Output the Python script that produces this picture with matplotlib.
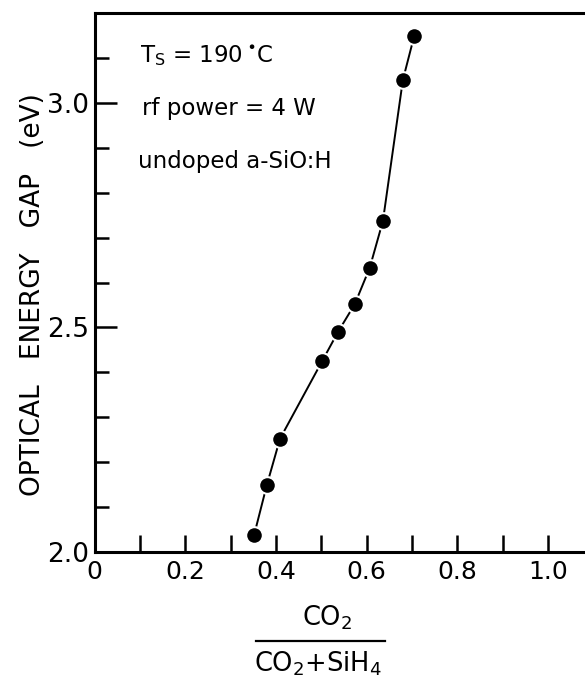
import matplotlib
matplotlib.use("Agg")
import matplotlib.pyplot as plt
from matplotlib.lines import Line2D

co2_ratio = [0.352, 0.380, 0.409, 0.502, 0.537, 0.574, 0.607, 0.636, 0.680, 0.705]
energy_gap = [2.038, 2.149, 2.252, 2.425, 2.490, 2.552, 2.633, 2.737, 3.051, 3.149]

x_ticks = [0.0, 0.1, 0.2, 0.3, 0.4, 0.5, 0.6, 0.7, 0.8, 0.9, 1.0]
x_tick_labels = ["0", "", "0.2", "", "0.4", "", "0.6", "", "0.8", "", "1.0"]
y_major = [2.0, 2.5, 3.0]
y_major_labels = ["2.0", "2.5", "3.0"]
y_minor = [2.1, 2.2, 2.3, 2.4, 2.6, 2.7, 2.8, 2.9, 3.1]

plt.rcParams['font.family'] = ['DejaVu Sans']

fig = plt.figure(figsize=(5.85, 6.85), dpi=100)
ax = fig.add_axes([94.5/585, 133/685, 1 - 94.5/585, (672-133)/685])

ax.plot(co2_ratio, energy_gap, color='black', lw=1.4, marker='o', markersize=12,
        markerfacecolor='black', markeredgecolor='white', markeredgewidth=1.5, zorder=3)

ax.set_xlim(0, 1.0816)
ax.set_ylim(2.0, 3.2)

ax.spines['right'].set_visible(False)
for s in ['left', 'bottom', 'top']:
    ax.spines[s].set_linewidth(2.2)

ax.set_xticks(x_ticks)
ax.set_xticklabels(x_tick_labels, fontsize=18)
ax.set_yticks(y_major)
ax.set_yticklabels(y_major_labels, fontsize=19)
ax.set_yticks(y_minor, minor=True)
ax.tick_params(axis='x', direction='in', length=12.5, width=1.8, pad=6)
ax.tick_params(axis='y', which='major', direction='in', length=16, width=1.8, pad=4)
ax.tick_params(axis='y', which='minor', direction='in', length=10, width=1.8)
ax.tick_params(top=False, right=False)

fig.text(33/585, 1 - 295/685, "OPTICAL   ENERGY   GAP   (eV)", fontsize=19,
         rotation=90, ha='center', va='center')

ax.text(0.100, 3.091, r"T$_\mathregular{S}$ = 190 $\!^{\bullet}$C", fontsize=16.5, va='baseline', ha='left')
ax.text(0.104, 2.973, "rf power = 4 W", fontsize=16.5, va='baseline', ha='left')
ax.text(0.096, 2.855, "undoped a-SiO:H", fontsize=16.5, va='baseline', ha='left')

fig.text(327/585, 1 - 625/685, r"CO$_\mathregular{2}$", fontsize=18.5, ha='center', va='baseline')
fig.add_artist(Line2D([256/585, 385/585], [1 - 641/685, 1 - 641/685],
                      color='black', lw=1.6))
fig.text(318/585, 1 - 672/685, r"CO$_\mathregular{2}$+SiH$_\mathregular{4}$", fontsize=18.5,
         ha='center', va='baseline')

fig.savefig("out.png", dpi=100)
